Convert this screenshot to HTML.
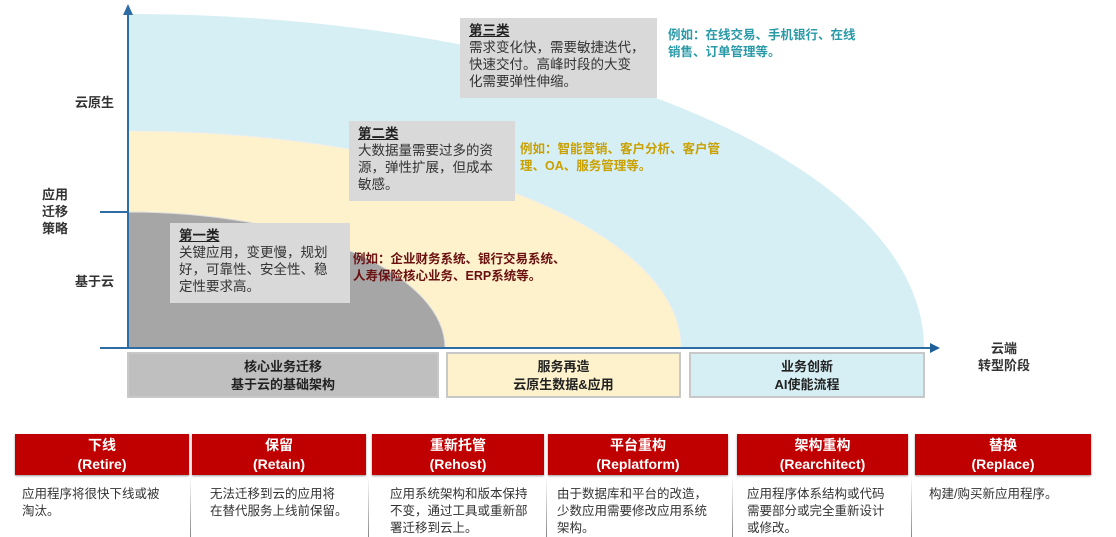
<!DOCTYPE html>
<html><head><meta charset="utf-8"><style>
body{margin:0;width:1116px;height:537px;background:#fff;position:relative;overflow:hidden;font-family:"Liberation Sans","Noto Sans CJK SC",sans-serif;}
.a{position:absolute;}
.lbl{font-size:13px;color:#333;}
.box{position:absolute;background:#d9d9d9;font-size:13.5px;line-height:17px;color:#333;padding:4px 9px;box-sizing:border-box;white-space:nowrap;}
.box b{text-decoration:underline;color:#222;}
.band{position:absolute;top:352px;height:46px;box-sizing:border-box;border:2px solid #c8c8c8;text-align:center;font-size:13px;font-weight:bold;line-height:18px;padding-top:4px;color:#222;}
.hd{position:absolute;top:434px;height:41px;background:#c00000;color:#fff;text-align:center;font-weight:bold;font-size:14px;line-height:19px;padding-top:2px;box-sizing:border-box;box-shadow:0 1px 2px #999;}
.tx{position:absolute;top:486px;font-size:12.5px;line-height:17px;color:#333;white-space:nowrap;}
.ex{position:absolute;font-size:12.5px;line-height:17px;font-weight:bold;white-space:nowrap;}
.sep{position:absolute;top:476px;width:1px;height:61px;background:linear-gradient(#fff,#888);}
</style></head><body>
<svg class="a" style="left:0;top:0" width="1116" height="420">
<path d="M128,348 L128,14 A796,334 0 0 1 924,348 Z" fill="#d6eff4"/>
<path d="M128,348 L128,131 A553,217 0 0 1 681,348 Z" fill="#fef2cc" stroke="#eee" stroke-width="1"/>
<path d="M128,348 L128,212 A317,136 0 0 1 445,348 Z" fill="#a6a6a6" stroke="#ddd" stroke-width="1"/>
<line x1="128" y1="349" x2="128" y2="14" stroke="#2e6da4" stroke-width="2"/>
<polygon points="128,4 123,15 133,15" fill="#2e6da4"/>
<line x1="100" y1="348" x2="932" y2="348" stroke="#2e6da4" stroke-width="2"/>
<polygon points="940,348 930,343 930,353" fill="#1f5f99"/>
<line x1="100" y1="212" x2="128" y2="212" stroke="#2e6da4" stroke-width="2"/>
</svg>
<div class="a lbl" style="left:75px;top:92px;font-weight:bold">云原生</div>
<div class="a lbl" style="left:42px;top:186px;font-weight:bold;line-height:17px;width:30px">应用<br>迁移<br>策略</div>
<div class="a lbl" style="left:75px;top:271px;font-weight:bold">基于云</div>
<div class="a lbl" style="left:978px;top:340px;font-weight:bold;text-align:center;line-height:17px">云端<br>转型阶段</div>

<div class="box" style="left:460px;top:18px;width:197px;height:80px;"><b>第三类</b><br>需求变化快，需要敏捷迭代，<br>快速交付。高峰时段的大变<br>化需要弹性伸缩。</div>
<div class="ex" style="left:668px;top:27px;color:#2a9aa8">例如：在线交易、手机银行、在线<br>销售、订单管理等。</div>
<div class="box" style="left:349px;top:121px;width:166px;height:80px;"><b>第二类</b><br>大数据量需要过多的资<br>源，弹性扩展，但成本<br>敏感。</div>
<div class="ex" style="left:520px;top:141px;color:#c9a000">例如：智能营销、客户分析、客户管<br>理、OA、服务管理等。</div>
<div class="box" style="left:170px;top:223px;width:180px;height:80px;"><b>第一类</b><br>关键应用，变更慢，规划<br>好，可靠性、安全性、稳<br>定性要求高。</div>
<div class="ex" style="left:353px;top:251px;color:#6b1010">例如：企业财务系统、银行交易系统、<br>人寿保险核心业务、ERP系统等。</div>

<div class="band" style="left:127px;width:312px;background:#bfbfbf">核心业务迁移<br>基于云的基础架构</div>
<div class="band" style="left:446px;width:235px;background:#fef2cc">服务再造<br>云原生数据&amp;应用</div>
<div class="band" style="left:689px;width:236px;background:#d6eff4">业务创新<br>AI使能流程</div>

<div class="hd" style="left:15px;width:174px">下线<br>(Retire)</div>
<div class="hd" style="left:192px;width:174px">保留<br>(Retain)</div>
<div class="hd" style="left:372px;width:172px">重新托管<br>(Rehost)</div>
<div class="hd" style="left:548px;width:180px">平台重构<br>(Replatform)</div>
<div class="hd" style="left:737px;width:171px">架构重构<br>(Rearchitect)</div>
<div class="hd" style="left:915px;width:176px">替换<br>(Replace)</div>
<div class="sep" style="left:190px"></div><div class="sep" style="left:368px"></div><div class="sep" style="left:546px"></div><div class="sep" style="left:732px"></div><div class="sep" style="left:911px"></div>
<div class="tx" style="left:22px">应用程序将很快下线或被<br>淘汰。</div>
<div class="tx" style="left:210px">无法迁移到云的应用将<br>在替代服务上线前保留。</div>
<div class="tx" style="left:390px">应用系统架构和版本保持<br>不变，通过工具或重新部<br>署迁移到云上。</div>
<div class="tx" style="left:557px">由于数据库和平台的改造，<br>少数应用需要修改应用系统<br>架构。</div>
<div class="tx" style="left:747px">应用程序体系结构或代码<br>需要部分或完全重新设计<br>或修改。</div>
<div class="tx" style="left:929px">构建/购买新应用程序。</div>
</body></html>
